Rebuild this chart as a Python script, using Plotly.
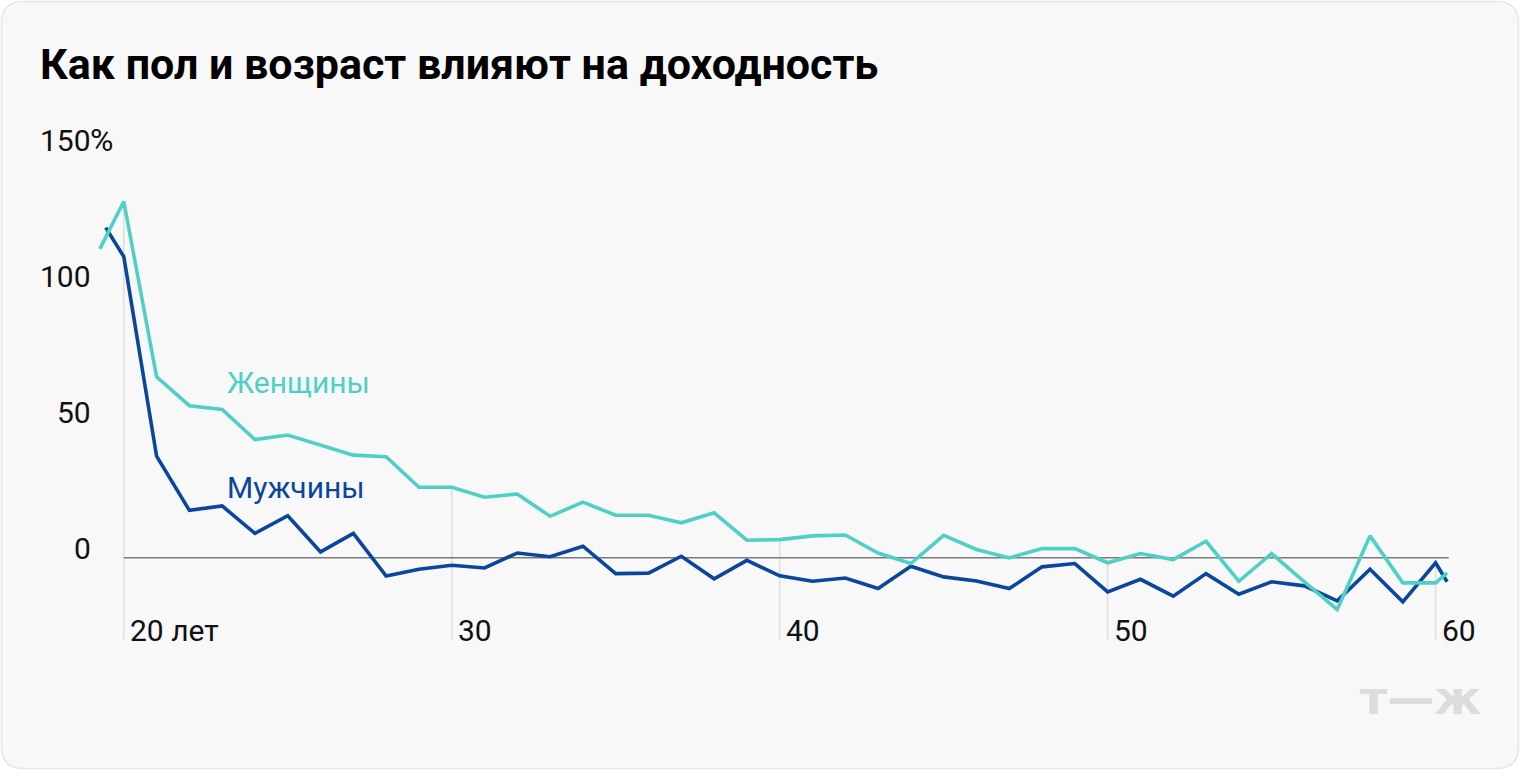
import numpy as np
import plotly.graph_objects as go

# Ages (years) and returns (%)
ages_women = [19.27, 20, 21, 22, 23, 24, 25, 26, 27, 28, 29, 30, 31, 32, 33,
              34, 35, 36, 37, 38, 39, 40, 41, 42, 43, 44, 45, 46, 47, 48, 49,
              50, 51, 52, 53, 54, 55, 56, 57, 58, 59, 60, 60.35]
women = [113.7, 131.1, 66.6, 56.0, 54.6, 43.5, 45.2, 41.5, 37.8, 37.2, 26.0,
         26.0, 22.3, 23.5, 15.3, 20.5, 15.7, 15.7, 12.9, 16.6, 6.5, 6.7, 8.1,
         8.4, 1.8, -2.1, 8.3, 3.1, 0.0, 3.4, 3.4, -1.8, 1.6, -0.6, 6.1, -8.6,
         1.6, -8.8, -19.0, 8.1, -9.2, -9.2, -5.5]

ages_men = [19.45, 20, 21, 22, 23, 24, 25, 26, 27, 28, 29, 30, 31, 32, 33,
            34, 35, 36, 37, 38, 39, 40, 41, 42, 43, 44, 45, 46, 47, 48, 49,
            50, 51, 52, 53, 54, 55, 56, 57, 58, 59, 60, 60.35]
men = [121.5, 110.8, 37.4, 17.5, 19.1, 9.0, 15.5, 2.2, 9.0, -6.7, -4.2, -2.7,
       -3.7, 1.8, 0.4, 4.3, -5.8, -5.6, 0.6, -7.7, -0.9, -6.6, -8.6, -7.4,
       -11.3, -3.1, -7.0, -8.5, -11.3, -3.3, -2.1, -12.5, -7.9, -14.1, -5.8,
       -13.4, -8.8, -10.3, -15.8, -4.2, -16.2, -1.8, -8.8]

x_ticks = [20, 30, 40, 50, 60]
x_labels = ['20 лет', '30', '40', '50', '60']
y_ticks = [150, 100, 50, 0]
y_labels = ['150', '100', '50', '0']

WOMEN_COLOR = '#50d0c5'
MEN_COLOR = '#0a469c'
FONT = 'Roboto'
TEXT_SIZE = 30

W, H = 1520, 770
ML, MR, MT, MB = 91, 68, 123, 117
X_RANGE = [19.0, 60.5]
Y_RANGE = [-35, 160]
BOTTOM = -30

fig = go.Figure()

fig.add_trace(go.Scatter(
    x=ages_men, y=men, mode='lines', name='Мужчины',
    line=dict(color=MEN_COLOR, width=3.6), hoverinfo='skip'
))
fig.add_trace(go.Scatter(
    x=ages_women, y=women, mode='lines', name='Женщины',
    line=dict(color=WOMEN_COLOR, width=3.6), hoverinfo='skip'
))

# rounded card behind everything
pw = W - ML - MR
ph = H - MT - MB


def px(x):
    return (x - ML) / pw


def py(y):
    return 1 - (y - MT) / ph


x0, x1, y0, y1, r = 1.5, W - 1.5, 1.5, H - 1.5, 22
path = (
    f'M {px(x0 + r)} {py(y0)} L {px(x1 - r)} {py(y0)} '
    f'Q {px(x1)} {py(y0)} {px(x1)} {py(y0 + r)} '
    f'L {px(x1)} {py(y1 - r)} Q {px(x1)} {py(y1)} {px(x1 - r)} {py(y1)} '
    f'L {px(x0 + r)} {py(y1)} Q {px(x0)} {py(y1)} {px(x0)} {py(y1 - r)} '
    f'L {px(x0)} {py(y0 + r)} Q {px(x0)} {py(y0)} {px(x0 + r)} {py(y0)} Z'
)
shapes = [dict(
    type='path', path=path, xref='paper', yref='paper', layer='below',
    fillcolor='#f8f8f8', line=dict(color='#e6e6e6', width=1.5)
)]

# drop lines from the top series down to the axis
for t in x_ticks:
    top = max(np.interp(t, ages_women, women), np.interp(t, ages_men, men))
    shapes.append(dict(
        type='line', xref='x', yref='y', x0=t, x1=t, y0=BOTTOM, y1=top,
        line=dict(color='#dedede', width=1.5), layer='below'
    ))

# zero line
shapes.append(dict(
    type='line', xref='x', yref='y', x0=20, x1=60.4, y0=0, y1=0,
    line=dict(color='#7a7a7a', width=1.5), layer='below'
))

annotations = []
for t, lab in zip(x_ticks, x_labels):
    annotations.append(dict(
        x=t, y=-26.6, xref='x', yref='y', text=lab, showarrow=False,
        xanchor='left', yanchor='middle', xshift=4,
        font=dict(family=FONT, size=TEXT_SIZE, color='#111111')
    ))
for v, lab in zip(y_ticks, y_labels):
    annotations.append(dict(
        x=19.06, y=v, xref='x', yref='y', text=lab, showarrow=False,
        xanchor='right', yanchor='middle', yshift=9.7,
        font=dict(family=FONT, size=TEXT_SIZE, color='#111111')
    ))
annotations.append(dict(
    x=19.06, y=150, xref='x', yref='y', text='%', showarrow=False,
    xanchor='left', yanchor='middle', yshift=9.7, xshift=-5,
    font=dict(family=FONT, size=TEXT_SIZE + 2, color='#111111')
))

annotations.append(dict(
    x=23.17, y=64.7, xref='x', yref='y', text='Женщины', showarrow=False,
    xanchor='left', yanchor='middle', xshift=-3,
    font=dict(family=FONT, size=TEXT_SIZE, color=WOMEN_COLOR)
))
annotations.append(dict(
    x=23.17, y=26.0, xref='x', yref='y', text='Мужчины', showarrow=False,
    xanchor='left', yanchor='middle', xshift=-3,
    font=dict(family=FONT, size=TEXT_SIZE, color=MEN_COLOR)
))

# title
annotations.append(dict(
    x=px(38), y=py(64), xref='paper', yref='paper',
    text='<b>Как пол и возраст влияют на доходность</b>',
    showarrow=False, xanchor='left', yanchor='middle',
    font=dict(family=FONT, size=43, color='#000000')
))

# watermark
annotations.append(dict(
    x=px(1420), y=py(697), xref='paper', yref='paper',
    text='<b>т—ж</b>', showarrow=False, xanchor='center', yanchor='middle',
    font=dict(family='DejaVu Sans', size=47, color='#dcdcdc')
))

fig.update_layout(
    width=W, height=H,
    margin=dict(l=ML, r=MR, t=MT, b=MB),
    paper_bgcolor='#ffffff', plot_bgcolor='rgba(0,0,0,0)',
    showlegend=False,
    xaxis=dict(range=X_RANGE, visible=False, fixedrange=True),
    yaxis=dict(range=Y_RANGE, visible=False, fixedrange=True),
    shapes=shapes, annotations=annotations,
)

fig.write_html('out.html', config={'displayModeBar': False},
               post_script="document.body.style.margin='0';")
